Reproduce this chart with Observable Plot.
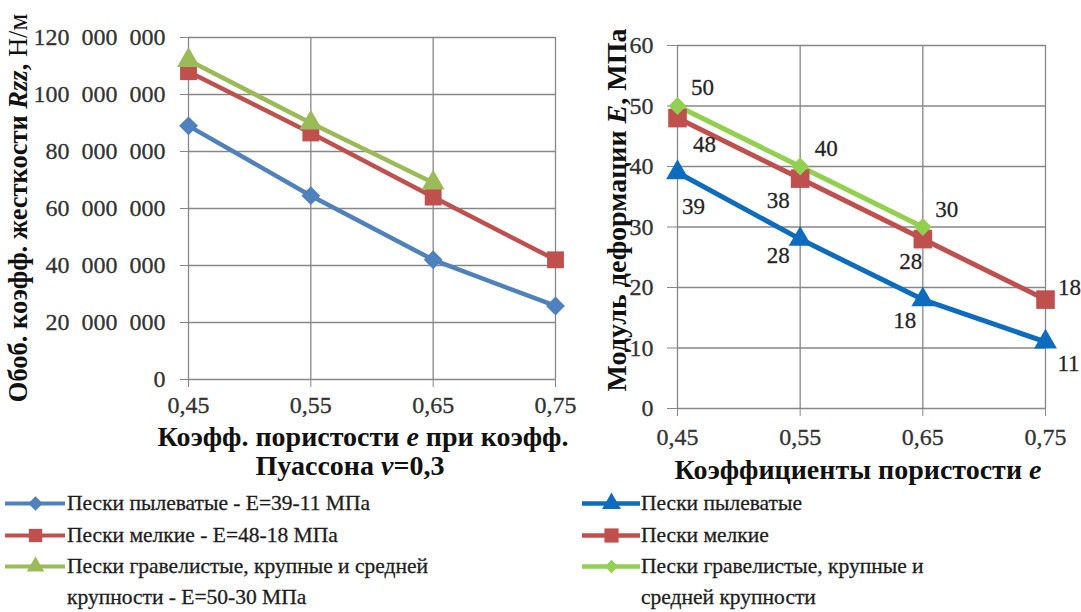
<!DOCTYPE html>
<html>
<head>
<meta charset="utf-8">
<script src="https://cdn.jsdelivr.net/npm/d3@7"></script>
<script src="https://cdn.jsdelivr.net/npm/@observablehq/plot@0.6"></script>
<style>
  html, body { margin: 0; padding: 0; background: #fff; }
  #root { position: relative; width: 1081px; height: 612px; overflow: hidden; font-family: "Liberation Serif", "Times New Roman", serif; color: #1a1a1a; }
  .abs { position: absolute; white-space: nowrap; }
  .ctr { transform: translate(-50%, -50%); }
  .vmid { transform: translateY(-50%); }
  .title { font-weight: bold; font-size: 28px; line-height: 30px; color: #111; }
  .leg { font-size: 21.5px; line-height: 30px; color: #1e1e1e; -webkit-text-stroke: 0.3px #1e1e1e; }
  .rot { transform: translate(-50%, -50%) rotate(-90deg); }
  svg.plot { position: absolute; top: 0; }
  svg.plot g[aria-label="x-axis tick label"] text,
  svg.plot g[aria-label="y-axis tick label"] text,
  svg.plot g[aria-label="text"] text { stroke: currentColor; stroke-width: 0.3px; }
</style>
</head>
<body>
<div id="root"></div>
<script>
// ---------- DATA ----------
const porosity = [0.45, 0.55, 0.65, 0.75];

// Left chart: generalized stiffness coefficient Rzz, N/m
const leftSeriesNames = [
  "Пески пылеватые  - E=39-11 МПа",
  "Пески мелкие - E=48-18 МПа",
  "Пески гравелистые, крупные и средней крупности  - E=50-30 МПа"
];
const leftSilty  = [89000000, 64500000, 42000000, 25800000];
const leftFine   = [108000000, 86500000, 64000000, 42000000];
const leftGravel = [112000000, 90000000, 69000000, null];
const leftYTicks = [0, 20000000, 40000000, 60000000, 80000000, 100000000, 120000000];

// Right chart: deformation modulus E, MPa
const rightSeriesNames = ["Пески пылеватые", "Пески мелкие", "Пески гравелистые, крупные и средней крупности"];
const rightSilty  = [39, 28, 18, 11];
const rightFine   = [48, 38, 28, 18];
const rightGravel = [50, 40, 30, null];
const rightYTicks = [0, 10, 20, 30, 40, 50, 60];

// ---------- STYLE ----------
const leftColors  = ["#4f81bd", "#c0504d", "#9bbb59"];
const rightColors = ["#0e6cbf", "#c0504d", "#92d050"];
const leftSymbols  = ["diamond2", "square", "triangle"];
const rightSymbols = ["triangle", "square", "diamond2"];
const leftR  = {diamond2: 8.5, square: 9.5, triangle: 8.5};
const rightR = {diamond2: 8, square: 10.5, triangle: 8.5};
// per-point label offsets (dx, dy) for right chart labels, by series then point
const labelOffsets = [
  [[16, 34], [-22, 17], [-18, 21], [23, 22]],
  [[27, 27], [-22, 22], [-12, 23], [24, -12]],
  [[25, -18], [26, -18], [24, -17], null]
];
const gridColor = "#878787";
const FONT = "'Liberation Serif', 'Times New Roman', serif";

function rows(values, names, seriesIndex) {
  return porosity.map((e, i) => ({e, v: values[i], s: names[seriesIndex], k: seriesIndex, i}))
    .filter(d => d.v != null);
}
const leftData = [
  ...rows(leftSilty, leftSeriesNames, 0),
  ...rows(leftFine, leftSeriesNames, 1),
  ...rows(leftGravel, leftSeriesNames, 2)
];
const rightData = [
  ...rows(rightSilty, rightSeriesNames, 0),
  ...rows(rightFine, rightSeriesNames, 1),
  ...rows(rightGravel, rightSeriesNames, 2)
];
const fmtE = d => d.toFixed(2).replace(".", ",");
const fmtBig = d => d3.format(",")(d).replace(/,/g, "\u2007");

function seriesMarks(data, colors, symbols, rmap, sw) {
  const marks = [];
  [0, 1, 2].forEach(k => {
    const d = data.filter(r => r.k === k);
    marks.push(Plot.line(d, {x: "e", y: "v", stroke: colors[k], strokeWidth: sw, strokeLinejoin: "round"}));
  });
  [0, 1, 2].forEach(k => {
    const d = data.filter(r => r.k === k);
    marks.push(Plot.dot(d, {x: "e", y: "v", symbol: () => symbols[k], fill: colors[k], stroke: "none", r: rmap[symbols[k]]}));
  });
  return marks;
}

// ---------- LEFT CHART ----------
const left = Plot.plot({
  width: 575, height: 420,
  marginLeft: 188, marginRight: 20, marginTop: 37, marginBottom: 41,
  style: {fontFamily: FONT, fontSize: "24px", color: "#333", background: "transparent", overflow: "visible"},
  x: {domain: [0.45, 0.75], label: null},
  y: {domain: [0, 120000000], label: null},
  symbol: {type: "identity"},
  marks: [
    Plot.gridX(porosity, {stroke: gridColor, strokeOpacity: 1, strokeWidth: 1.3}),
    Plot.gridY(leftYTicks, {stroke: gridColor, strokeOpacity: 1, strokeWidth: 1.3}),
    Plot.axisX(porosity, {tickFormat: fmtE, tickSize: 8, tickPadding: 8, stroke: gridColor, fill: "#333"}),
    Plot.axisY(leftYTicks, {tickFormat: fmtBig, tickSize: 8, tickPadding: 15, stroke: gridColor, fill: "#333", fontSize: 24}),
    ...seriesMarks(leftData, leftColors, leftSymbols, leftR, 4.5)
  ]
});
left.classList.add("plot");
left.style.left = "0px";

// ---------- RIGHT CHART ----------
const right = Plot.plot({
  width: 481, height: 420,
  marginLeft: 77, marginRight: 36, marginTop: 45, marginBottom: 12,
  style: {fontFamily: FONT, fontSize: "24px", color: "#333", background: "transparent", overflow: "visible"},
  x: {domain: [0.45, 0.75], label: null},
  y: {domain: [0, 60], label: null},
  symbol: {type: "identity"},
  marks: [
    Plot.gridX(porosity, {stroke: gridColor, strokeOpacity: 1, strokeWidth: 1.3}),
    Plot.gridY(rightYTicks, {stroke: gridColor, strokeOpacity: 1, strokeWidth: 1.3}),
    Plot.axisX(porosity, {tickFormat: fmtE, tickSize: 8, tickPadding: 11, stroke: gridColor, fill: "#333"}),
    Plot.axisY(rightYTicks, {tickSize: 10, tickPadding: 14, stroke: gridColor, fill: "#333"}),
    ...seriesMarks(rightData, rightColors, rightSymbols, rightR, 5),
    Plot.text(rightData, {x: "e", y: "v", text: d => String(d.v), fill: "#222", fontSize: 23})
  ]
});
right.classList.add("plot");
right.style.left = "600px";
// per-point label offsets
d3.select(right).selectAll("g[aria-label='text'] text").each(function(_, j) {
  const d = rightData[j];
  const off = labelOffsets[d.k][d.i] || [0, 0];
  const t = d3.select(this);
  t.attr("transform", (t.attr("transform") || "") + ` translate(${off[0]},${off[1]})`);
});

const root = document.getElementById("root");
root.appendChild(left);
root.appendChild(right);

// ---------- TITLES & LEGENDS (HTML text) ----------
function add(html, cls, x, y, extra) {
  const el = document.createElement("div");
  el.className = "abs " + cls;
  el.style.left = x + "px";
  el.style.top = y + "px";
  if (extra) Object.assign(el.style, extra);
  el.innerHTML = html;
  root.appendChild(el);
  return el;
}
// axis titles
add("Обоб. коэфф. жесткости <i>Rzz</i>, <span style='font-weight:normal'>Н/м</span>", "title rot", 18, 208, {fontSize: "26.5px"});
add("Коэфф. пористости <i>e</i> при коэфф.", "title ctr", 363, 437);
add("Пуассона <i>ν</i>=0,3", "title ctr", 350, 466);
add("Модуль деформации <i>E</i>, МПа", "title rot", 617, 210);
add("Коэффициенты пористости <i>e</i>", "title ctr", 858, 470);

// legend swatches drawn with Plot so marker glyphs match the chart marks
function swatch(color, symbol, r, w, sw) {
  return Plot.plot({
    width: w, height: 24, margin: 0,
    x: {domain: [0, 1], axis: null}, y: {domain: [0, 1], axis: null},
    symbol: {type: "identity"},
    style: {background: "transparent", overflow: "visible"},
    marks: [
      Plot.ruleY([0.5], {stroke: color, strokeWidth: sw}),
      Plot.dot([0.5], {x: d => d, y: 0.5, symbol: () => symbol, fill: color, r})
    ]
  });
}
function legendItem(x, y, color, symbol, r, w, sw, lines, textX) {
  const s = swatch(color, symbol, r, w, sw);
  s.style.position = "absolute";
  s.style.left = x + "px";
  s.style.top = (y - 12) + "px";
  root.appendChild(s);
  lines.forEach((ln, li) => add(ln, "leg vmid", textX, y + li * 31));
}
legendItem(5, 503, leftColors[0], leftSymbols[0], 6.5, 60, 4, [leftSeriesNames[0]], 67);
legendItem(5, 535, leftColors[1], leftSymbols[1], 7.5, 60, 4, [leftSeriesNames[1]], 67);
legendItem(5, 566, leftColors[2], leftSymbols[2], 6.5, 60, 4, ["Пески гравелистые, крупные и средней", "крупности  - E=50-30 МПа"], 67);

legendItem(582, 503, rightColors[0], rightSymbols[0], 7, 58, 4.5, [rightSeriesNames[0]], 641);
legendItem(582, 535, rightColors[1], rightSymbols[1], 8, 58, 4.5, [rightSeriesNames[1]], 641);
legendItem(582, 566, rightColors[2], rightSymbols[2], 6, 58, 4.5, ["Пески гравелистые, крупные и", "средней крупности"], 641);
</script>
</body>
</html>
